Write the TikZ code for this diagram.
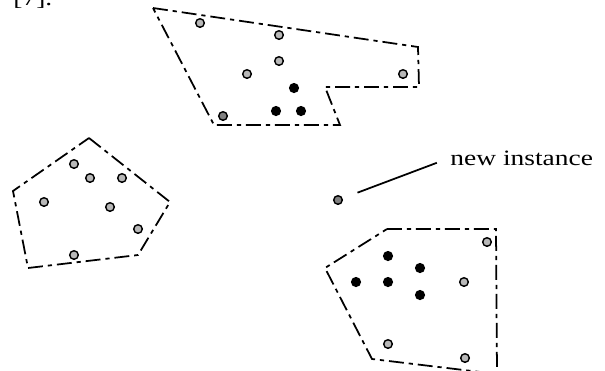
\documentclass[tikz,border=0pt]{standalone}
\usepackage{fontspec}
\setmainfont{Liberation Serif}
\usetikzlibrary{
    positioning,
}
\tikzset{
    grey dot/.style={circle, draw, fill=black!28, line width=0.8pt, inner sep=0pt, minimum size=4.9pt},
    dark dot/.style={grey dot, fill=black!50},
    black dot/.style={circle, fill=black, inner sep=0pt, minimum size=5.8pt},
    cluster/.style={line width=1pt, dash pattern=on 8.5pt off 2.8pt on 2.4pt off 2.8pt},
    label/.style={font=\fontsize{12.5}{14}\selectfont, xscale=1.25, inner sep=0pt},
}

\begin{document}
\begin{tikzpicture}[x=0.02cm, y=-0.02cm]
    \useasboundingbox (0,0) rectangle (605,370);

    \node[label, anchor=base west] (cite) at (13,5) {[7].};

    % ===== TOP CLUSTER =====
    \draw[cluster] (153,8) -- (418,47) -- (419,87) -- (325,87) -- (340,125) -- (214,125) -- cycle;
    \node[grey dot] (top_g1) at (200,23) {};
    \node[grey dot] (top_g2) at (279,35) {};
    \node[grey dot] (top_g3) at (279,61) {};
    \node[grey dot] (top_g4) at (247,74) {};
    \node[grey dot] (top_g5) at (403,74) {};
    \node[dark dot] (top_g6) at (223,116) {};
    \node[black dot] (top_b1) at (294,88) {};
    \node[black dot] (top_b2) at (276,111) {};
    \node[black dot] (top_b3) at (301,111) {};

    % ===== LEFT CLUSTER =====
    \draw[cluster] (89,138) -- (170,202) -- (138,255) -- (28,268) -- (13,191) -- cycle;
    \node[grey dot] (left_g1) at (74,164) {};
    \node[grey dot] (left_g2) at (90,178) {};
    \node[grey dot] (left_g3) at (122,178) {};
    \node[grey dot] (left_g4) at (44,202) {};
    \node[grey dot] (left_g5) at (110,207) {};
    \node[grey dot] (left_g6) at (138,229) {};
    \node[grey dot] (left_g7) at (74,255) {};

    % ===== BOTTOM RIGHT CLUSTER =====
    \draw[cluster] (387,229) -- (496,229) -- (497,374) -- (372,359) -- (325,268) -- cycle;
    \node[grey dot] (right_g1) at (487,242) {};
    \node[grey dot] (right_g2) at (464,282) {};
    \node[grey dot] (right_g3) at (388,344) {};
    \node[grey dot] (right_g4) at (465,358) {};
    \node[black dot] (right_b1) at (388,256) {};
    \node[black dot] (right_b2) at (420,268) {};
    \node[black dot] (right_b3) at (356,282) {};
    \node[black dot] (right_b4) at (388,282) {};
    \node[black dot] (right_b5) at (420,295) {};

    % ===== NEW INSTANCE =====
    \node[dark dot] (new_inst) at (338,200) {};
    \node[label, anchor=base west] (new_label) at (450,165) {new instance};
    \draw[line width=1pt, shorten <=9pt, shorten >=8pt] (new_inst) -- (new_label.west);

\end{tikzpicture}
\end{document}
